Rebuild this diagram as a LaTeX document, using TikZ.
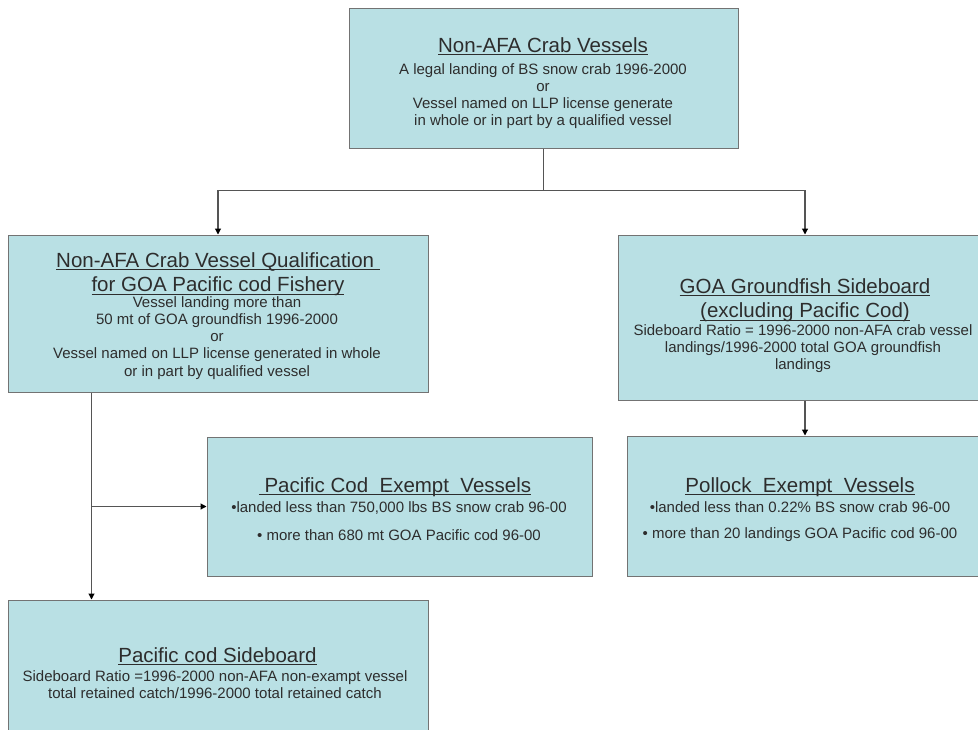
\documentclass[tikz,border=0pt]{standalone}
\usepackage{fontspec}
\setmainfont{Liberation Sans}
\usetikzlibrary{arrows.meta}
\definecolor{boxfill}{RGB}{185,224,228}
\definecolor{boxline}{RGB}{115,115,115}
\definecolor{conncol}{RGB}{85,85,85}
\definecolor{txtcol}{RGB}{45,45,45}
\newcommand{\uln}[1]{\setbox0\hbox{#1}\rlap{\rule[-3.2pt]{\wd0}{1.2pt}}\box0}
\newcommand{\ttlfont}{\fontsize{20.5}{24.5}\selectfont}
\newcommand{\bdyfont}{\fontsize{15}{17.2}\selectfont}
\begin{document}
\begin{tikzpicture}[x=1pt,y=-1pt,
  box/.style={draw=boxline, line width=1pt, fill=boxfill, inner sep=0pt, rectangle},
  ttl/.style={anchor=north, inner sep=0pt, align=center, font=\ttlfont, text=txtcol},
  bdy/.style={anchor=north, inner sep=0pt, align=center, font=\bdyfont, text=txtcol},
  conn/.style={draw=conncol, line width=1.1pt},
  arr/.style={conn, -{Triangle[length=6pt,width=6pt,color=black]}}]
\useasboundingbox (0,0) rectangle (978,729);
\clip (0,0) rectangle (978,729);

% boxes
\node[box, minimum width=389pt, minimum height=140pt] (b1) at (543.5,78) {};
\node[box, minimum width=420pt, minimum height=157pt] (b2) at (218,313.5) {};
\node[box, minimum width=374pt, minimum height=165pt] (b3) at (805,317.5) {};
\node[box, minimum width=385pt, minimum height=139pt] (b4) at (399.5,506.5) {};
\node[box, minimum width=356pt, minimum height=140pt] (b5) at (805,506) {};
\node[box, minimum width=420pt, minimum height=156pt] (b6) at (218,678) {};

% texts
\node[ttl] (t1) at (543,37.2) {\uln{Non-AFA Crab Vessels}};
\node[bdy] (d1) at (543,63.2) {A legal landing of BS snow crab 1996-2000\\or\\Vessel named on LLP license generate\\in whole or in part by a qualified vessel};

\node[ttl] (t2) at (218,252.2) {\uln{Non-AFA Crab Vessel Qualification~}\\\uln{for GOA Pacific cod Fishery}};
\node[bdy] (d2) at (217,296.2) {Vessel landing more than\\50 mt of GOA groundfish 1996-2000\\or\\Vessel named on LLP license generated in whole\\or in part by qualified vessel};

\node[ttl] (t3) at (805,278.2) {\uln{GOA Groundfish Sideboard}\\\uln{(excluding Pacific Cod)}};
\node[bdy] (d3) at (803,324.2) {Sideboard Ratio = 1996-2000 non-AFA crab vessel\\landings/1996-2000 total GOA groundfish\\landings};

\node[ttl] (t4) at (395,477.2) {\uln{~Pacific Cod~ Exempt~ Vessels}};
\node[bdy] (d4) at (399,501.2) {•landed less than 750,000 lbs BS snow crab 96-00\\[11pt]• more than 680 mt GOA Pacific cod 96-00};

\node[ttl] (t5) at (800,477.2) {\uln{Pollock~ Exempt~ Vessels}};
\node[bdy] (d5) at (800,501.2) {•landed less than 0.22\% BS snow crab 96-00\\[9pt]• more than 20 landings GOA Pacific cod 96-00};

\node[ttl] (t6) at (217.5,647.2) {\uln{Pacific cod Sideboard}};
\node[bdy] (d6) at (215,670.2) {Sideboard Ratio =1996-2000 non-AFA non-exampt vessel\\total retained catch/1996-2000 total retained catch};

% connectors
\draw[conn] (b1.south) -- ++(0,42) coordinate (j1);
\draw[arr] (j1) -| (b2.north);
\draw[arr] (j1) -| (b3.north);
\coordinate (s2) at ([xshift=84pt]b2.south west);
\draw[arr] (s2) -- (s2 |- b6.north);
\draw[arr] (s2 |- b4.west) -- (b4.west);
\draw[arr] (b3.south) -- (b5.north);
\end{tikzpicture}
\end{document}
